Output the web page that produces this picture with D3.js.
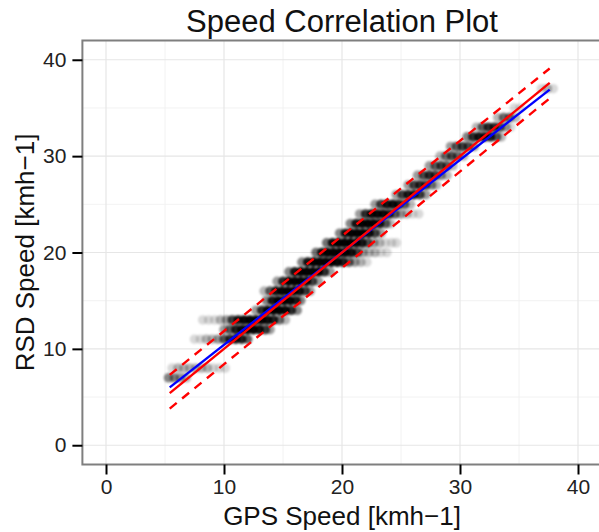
<!DOCTYPE html>
<html>
<head>
<meta charset="utf-8">
<script src="https://cdn.jsdelivr.net/npm/d3@7"></script>
<style>
  body { margin: 0; background: #fff; }
  svg { display: block; font-family: "Liberation Sans", Arial, sans-serif; }
</style>
</head>
<body>
<svg id="chart" width="599" height="532"></svg>
<script>
// RSD speed levels (integer km/h) and, per level, [GPS speed, number of overlapping observations]
const rsdLevels = [7, 8, 11, 12, 13, 14, 15, 16, 17, 18, 19, 20, 21, 22, 23, 24, 25, 26, 27, 28, 29, 30, 31, 32, 33, 34, 35, 37];
const gpsByLevel = [
	[[5.3,4],[5.8,4],[6.3,3],[6.8,2]],
	[[5.6,1],[6.1,2],[6.6,2],[7.1,2],[7.6,2],[8.1,2],[8.6,2],[9.1,1],[9.6,1],[10.1,1]],
	[[7.5,1],[8,1],[8.5,2],[9,2],[9.5,3],[10,6],[10.5,10],[11,14],[11.5,12],[12,6]],
	[[10,3],[10.5,6],[11,12],[11.5,18],[12,22],[12.5,22],[13,16],[13.5,8],[13.9,3]],
	[[8.2,1],[8.7,1],[9.2,1],[9.7,2],[10.2,3],[10.7,8],[11.2,14],[11.7,20],[12.2,24],[12.7,24],[13.2,22],[13.7,18],[14.2,12],[14.7,5],[15.2,2]],
	[[12.7,3],[13.2,10],[13.7,20],[14.2,25],[14.7,25],[15.2,20],[15.7,10],[16.2,4]],
	[[13.6,4],[14.1,14],[14.6,24],[15.1,26],[15.6,22],[16.1,12],[16.5,4]],
	[[13.4,2],[13.9,6],[14.4,16],[14.9,24],[15.4,26],[15.9,24],[16.4,16],[16.9,8],[17.3,3]],
	[[14.5,3],[15,10],[15.5,22],[16,26],[16.5,26],[17,18],[17.5,8],[18,3]],
	[[15.5,4],[16,14],[16.5,24],[17,28],[17.5,28],[18,22],[18.5,10],[19,3]],
	[[16.6,4],[17.1,14],[17.6,24],[18.1,28],[18.6,28],[19.1,26],[19.6,20],[20.1,12],[20.6,6],[21.1,3],[21.6,2],[22.1,1]],
	[[17.8,5],[18.3,16],[18.8,26],[19.3,28],[19.8,28],[20.3,24],[20.8,16],[21.3,8],[21.8,3],[22.3,2],[22.8,2],[23.3,1],[23.8,1]],
	[[18.7,5],[19.2,16],[19.7,26],[20.2,28],[20.7,28],[21.2,22],[21.7,14],[22.2,7],[22.7,3],[23.2,2],[23.7,1],[24.2,1],[24.6,1]],
	[[19.8,4],[20.3,14],[20.8,24],[21.3,26],[21.8,24],[22.3,16],[22.8,8],[23.3,3]],
	[[20.7,4],[21.2,14],[21.7,22],[22.2,24],[22.7,22],[23.2,14],[23.7,6],[24.1,2]],
	[[21.5,3],[22,10],[22.5,18],[23,20],[23.5,18],[24,12],[24.5,6],[25,3],[25.5,2],[26,1],[26.5,1]],
	[[22.8,3],[23.3,8],[23.8,14],[24.3,16],[24.8,12],[25.3,6],[25.8,2]],
	[[24.6,3],[25.1,8],[25.6,12],[26.1,12],[26.6,8],[27.1,3]],
	[[25.6,3],[26.1,8],[26.6,10],[27.1,8],[27.6,4],[28,2]],
	[[26.4,3],[26.9,7],[27.4,10],[27.9,8],[28.4,4],[28.9,2]],
	[[27.4,3],[27.9,6],[28.4,8],[28.9,6],[29.4,2]],
	[[28.3,2],[28.8,5],[29.3,7],[29.8,5],[30.3,2]],
	[[29.2,3],[29.7,6],[30.2,8],[30.7,7],[31.2,3]],
	[[30.6,4],[31.1,10],[31.6,14],[32.1,14],[32.6,12],[33.1,6],[33.5,2]],
	[[31.4,2],[31.9,6],[32.4,10],[32.9,10],[33.4,7],[33.9,3],[34.3,1]],
	[[33.2,2],[33.7,5],[34.2,5],[34.7,2]],
	[[34.6,1],[35.1,1]],
	[[36.9,1],[37.4,2],[37.9,1]]
];

// line end points (GPS speed) and matching RSD speed values
const lineX = [5.4, 37.6];
const fitY = [6.0, 36.9];       // blue: fitted regression
const identityY = [5.4, 37.6];  // red: 1:1 line
const upperY = [7.3, 39.1];     // red dashed
const lowerY = [3.8, 36.0];     // red dashed

const ticks = [0, 10, 20, 30, 40];
const minorTicks = [5, 15, 25, 35];

const svg = d3.select("#chart");
const panel = { left: 82.4, right: 601.6, top: 40.5, bottom: 464.5 };

const x = d3.scaleLinear().domain([-2, 42]).range([panel.left, panel.right]);
const y = d3.scaleLinear().domain([-2, 42]).range([panel.bottom, panel.top]);
const alpha = n => 1 - Math.pow(1 - 0.15, n);

const defs = svg.append("defs");
defs.append("clipPath").attr("id", "clip")
	.append("rect")
	.attr("x", panel.left).attr("y", panel.top)
	.attr("width", panel.right - panel.left).attr("height", panel.bottom - panel.top);
defs.append("filter").attr("id", "soft")
	.append("feGaussianBlur").attr("stdDeviation", 0.9);

// grid
const grid = svg.append("g").attr("clip-path", "url(#clip)");
grid.selectAll(".minx").data(minorTicks).join("line")
	.attr("x1", d => x(d)).attr("x2", d => x(d))
	.attr("y1", panel.top).attr("y2", panel.bottom)
	.attr("stroke", "#f0f0f0").attr("stroke-width", 0.9);
grid.selectAll(".miny").data(minorTicks).join("line")
	.attr("y1", d => y(d)).attr("y2", d => y(d))
	.attr("x1", panel.left).attr("x2", panel.right)
	.attr("stroke", "#f0f0f0").attr("stroke-width", 0.9);
grid.selectAll(".majx").data(ticks).join("line")
	.attr("x1", d => x(d)).attr("x2", d => x(d))
	.attr("y1", panel.top).attr("y2", panel.bottom)
	.attr("stroke", "#e6e6e6").attr("stroke-width", 1.2);
grid.selectAll(".majy").data(ticks).join("line")
	.attr("y1", d => y(d)).attr("y2", d => y(d))
	.attr("x1", panel.left).attr("x2", panel.right)
	.attr("stroke", "#e6e6e6").attr("stroke-width", 1.2);

// points
const plot = svg.append("g").attr("clip-path", "url(#clip)");
const points = rsdLevels.flatMap((lev, i) => gpsByLevel[i].map(p => ({ gps: p[0], rsd: lev, n: p[1] })));
plot.append("g").attr("filter", "url(#soft)")
	.selectAll("circle").data(points).join("circle")
	.attr("cx", d => x(d.gps))
	.attr("cy", d => y(d.rsd))
	.attr("r", 4.8)
	.attr("fill", "#000")
	.attr("fill-opacity", d => alpha(d.n));

// lines
const line = d3.line().x(d => x(d[0])).y(d => y(d[1]));
const seg = ys => lineX.map((v, i) => [v, ys[i]]);
plot.append("path").attr("d", line(seg(fitY)))
	.attr("stroke", "#0000ff").attr("stroke-width", 2.4).attr("fill", "none");
plot.append("path").attr("d", line(seg(identityY)))
	.attr("stroke", "#ff0000").attr("stroke-width", 2.4).attr("fill", "none");
[upperY, lowerY].forEach(ys => {
	plot.append("path").attr("d", line(seg(ys)))
		.attr("stroke", "#ff0000").attr("stroke-width", 2.4).attr("fill", "none")
		.attr("stroke-dasharray", "9,7");
});

// panel border
svg.append("rect")
	.attr("x", panel.left).attr("y", panel.top)
	.attr("width", panel.right - panel.left).attr("height", panel.bottom - panel.top)
	.attr("fill", "none").attr("stroke", "#7f7f7f").attr("stroke-width", 2);

// axes
const xAxis = svg.append("g")
	.attr("transform", `translate(0,${panel.bottom})`)
	.call(d3.axisBottom(x).tickValues(ticks).tickSize(10).tickPadding(5));
const yAxis = svg.append("g")
	.attr("transform", `translate(${panel.left},0)`)
	.call(d3.axisLeft(y).tickValues(ticks).tickSize(10).tickPadding(6));
[xAxis, yAxis].forEach(a => {
	a.select(".domain").remove();
	a.selectAll(".tick line").attr("stroke", "#000").attr("stroke-width", 2);
	a.selectAll(".tick text").attr("fill", "#222").style("font-size", "21px")
		.style("font-family", "'Liberation Sans', Arial, sans-serif");
});

// titles
svg.append("text")
	.attr("x", (panel.left + panel.right) / 2).attr("y", 32)
	.attr("text-anchor", "middle").style("font-size", "31px").attr("fill", "#111")
	.text("Speed Correlation Plot");
svg.append("text")
	.attr("x", (panel.left + panel.right) / 2).attr("y", 525)
	.attr("text-anchor", "middle").style("font-size", "26px").attr("fill", "#111")
	.text("GPS Speed [kmh\u22121]");
svg.append("text")
	.attr("transform", `translate(34,${(panel.top + panel.bottom) / 2}) rotate(-90)`)
	.attr("text-anchor", "middle").style("font-size", "26px").attr("fill", "#111")
	.text("RSD Speed [kmh\u22121]");
</script>
</body>
</html>
